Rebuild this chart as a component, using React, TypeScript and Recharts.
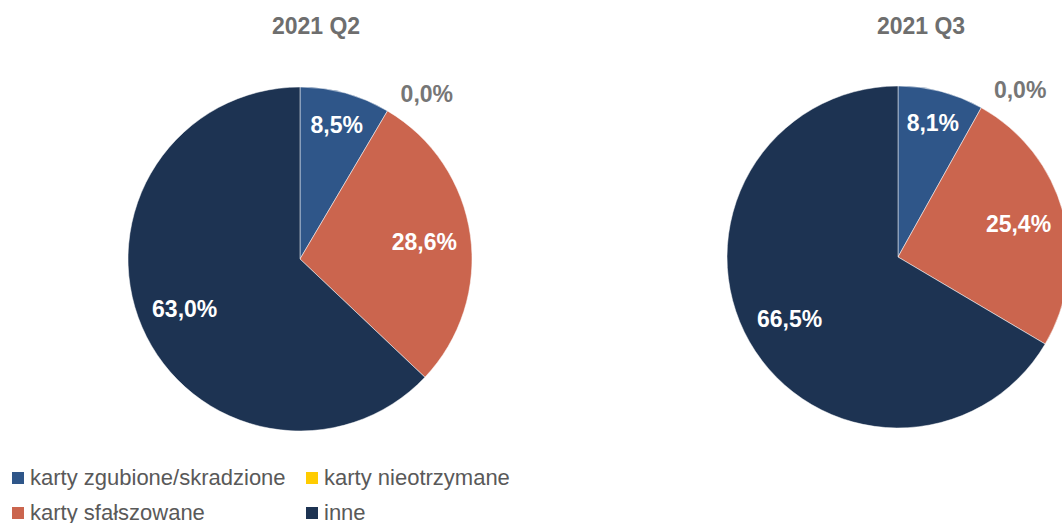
import { PieChart, Pie, Cell, Legend } from "recharts";

const categories = [
  "karty zgubione/skradzione",
  "karty nieotrzymane",
  "karty sfałszowane",
  "inne",
];
const periods = ["2021 Q2", "2021 Q3"];
const q2Values = [8.5, 0.0, 28.6, 63.0];
const q3Values = [8.1, 0.0, 25.4, 66.5];
const colors = ["#2F5689", "#FFCC00", "#CB654E", "#1D3352"];

const FONT = "Arial, 'Liberation Sans', sans-serif";
const RAD = Math.PI / 180;

const q2Data = categories.map((name, i) => ({ name, value: q2Values[i] }));
const q3Data = categories.map((name, i) => ({ name, value: q3Values[i] }));

const fmt = (v: number) => v.toFixed(1).replace(".", ",") + "%";

const renderLabel = (props: any) => {
  const { cx, cy, midAngle, outerRadius, value } = props;
  let angle = midAngle;
  let r: number;
  let fill = "#ffffff";
  if (value === 0) {
    // Excel puts empty slices outside the pie
    angle = midAngle - 7;
    r = outerRadius + 36;
    fill = "#767676";
  } else {
    r = outerRadius * (value < 10 ? 0.81 : 0.73);
  }
  const x = cx + r * Math.cos(angle * RAD);
  const y = cy - r * Math.sin(angle * RAD);
  return (
    <text
      x={x}
      y={y}
      fill={fill}
      textAnchor="middle"
      dominantBaseline="central"
      fontFamily={FONT}
      fontWeight="bold"
      fontSize={23}
    >
      {fmt(value)}
    </text>
  );
};

const renderLegend = () => (
  <div
    style={{
      display: "grid",
      gridTemplateColumns: "294px 260px",
      rowGap: 11,
      fontFamily: FONT,
      fontSize: 22,
      color: "#595959",
      lineHeight: "24px",
    }}
  >
    {[0, 1, 2, 3].map((i) => (
      <div key={i} style={{ display: "flex", alignItems: "center" }}>
        <span
          style={{
            width: 12,
            height: 12,
            background: colors[i],
            marginRight: 6,
            display: "inline-block",
          }}
        />
        {categories[i]}
      </div>
    ))}
  </div>
);

const titleStyle = (left: number): React.CSSProperties => ({
  position: "absolute",
  left,
  top: 13,
  width: 200,
  textAlign: "center",
  fontFamily: FONT,
  fontWeight: "bold",
  fontSize: 23,
  color: "#6E6E6E",
});

export default function App() {
  return (
    <div
      style={{
        position: "absolute",
        left: 0,
        top: 0,
        width: 1062,
        height: 523,
        overflow: "hidden",
        background: "#fff",
      }}
    >
      <div style={titleStyle(216)}>{periods[0]}</div>
      <div style={titleStyle(821)}>{periods[1]}</div>
      <PieChart width={1062} height={523} margin={{ top: 0, right: 0, bottom: 0, left: 0 }}>
        <Pie
          data={q2Data}
          dataKey="value"
          cx={300}
          cy={259}
          outerRadius={172}
          startAngle={90}
          endAngle={-270}
          stroke="#ffffff"
          strokeWidth={0.5}
          label={renderLabel}
          labelLine={false}
          isAnimationActive={false}
        >
          {q2Data.map((d, i) => (
            <Cell key={d.name} fill={colors[i]} />
          ))}
        </Pie>
        <Pie
          data={q3Data}
          dataKey="value"
          cx={898}
          cy={257}
          outerRadius={171}
          startAngle={90}
          endAngle={-270}
          stroke="#ffffff"
          strokeWidth={0.5}
          label={renderLabel}
          labelLine={false}
          isAnimationActive={false}
        >
          {q3Data.map((d, i) => (
            <Cell key={d.name} fill={colors[i]} />
          ))}
        </Pie>
        <Legend
          content={renderLegend}
          wrapperStyle={{ left: 12, top: 466, width: 600, bottom: "auto" }}
        />
      </PieChart>
    </div>
  );
}
